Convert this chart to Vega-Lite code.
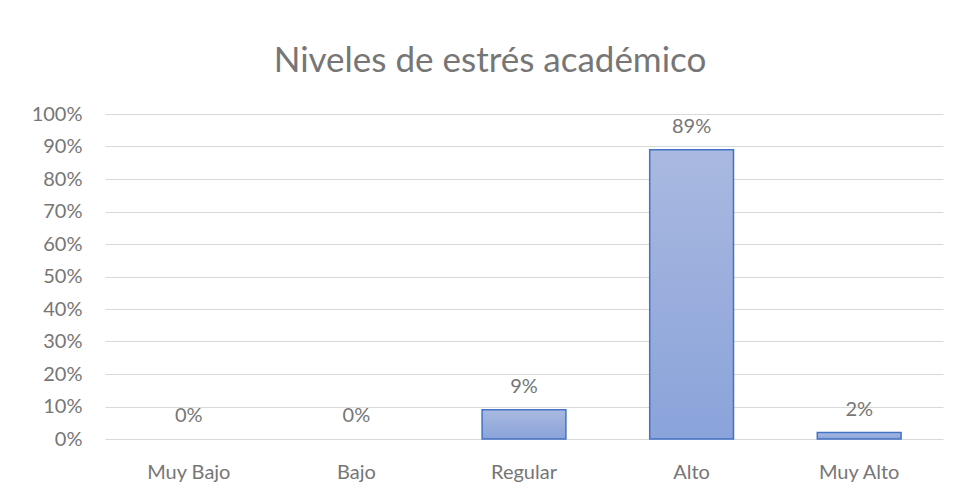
{
  "$schema": "https://vega.github.io/schema/vega-lite/v6.json",
  "width": 838,
  "height": 325,
  "autosize": {"type": "none"},
  "padding": {"left": 105, "top": 114, "right": 16, "bottom": 54},
  "background": "white",
  "title": {
    "text": "Niveles de estrés académico",
    "font": "Lato",
    "fontSize": 35,
    "fontWeight": "normal",
    "color": "#767676",
    "anchor": "middle",
    "frame": "group",
    "baseline": "alphabetic",
    "dx": -34,
    "offset": -3
  },
  "data": {
    "values": [
      {"nivel": "Muy Bajo", "pct": 0},
      {"nivel": "Bajo", "pct": 0},
      {"nivel": "Regular", "pct": 0.09},
      {"nivel": "Alto", "pct": 0.89},
      {"nivel": "Muy Alto", "pct": 0.02}
    ]
  },
  "encoding": {
    "x": {
      "field": "nivel",
      "type": "nominal",
      "sort": ["Muy Bajo", "Bajo", "Regular", "Alto", "Muy Alto"],
      "scale": {"paddingInner": 0.5, "paddingOuter": 0.25},
      "axis": {
        "title": null,
        "labelAngle": 0,
        "labelFont": "Lato",
        "labelFontSize": 20,
        "labelColor": "#767676",
        "labelBaseline": "alphabetic",
        "labelPadding": 39,
        "ticks": false,
        "domain": false,
        "grid": false
      }
    },
    "y": {
      "field": "pct",
      "type": "quantitative",
      "scale": {"domain": [0, 1], "nice": false},
      "axis": {
        "title": null,
        "format": ".0%",
        "values": [0, 0.1, 0.2, 0.3, 0.4, 0.5, 0.6, 0.7, 0.8, 0.9, 1],
        "labelFont": "Lato",
        "labelFontSize": 20,
        "labelColor": "#767676",
        "labelPadding": 23,
        "ticks": false,
        "domain": false,
        "grid": true,
        "gridColor": "#d9d9d9",
        "gridWidth": 1
      }
    }
  },
  "layer": [
    {
      "transform": [{"filter": "datum.pct > 0"}],
      "mark": {
        "type": "bar",
        "stroke": "#4472c4",
        "strokeWidth": 1.5,
        "color": {
          "gradient": "linear",
          "x1": 0, "y1": 0, "x2": 0, "y2": 1,
          "stops": [
            {"offset": 0, "color": "#a9b9e0"},
            {"offset": 1, "color": "#8aa3da"}
          ]
        }
      }
    },
    {
      "mark": {
        "type": "text",
        "baseline": "alphabetic",
        "dy": -17,
        "font": "Lato",
        "fontSize": 20,
        "color": "#767676"
      },
      "encoding": {
        "text": {"field": "pct", "type": "quantitative", "format": ".0%"}
      }
    }
  ],
  "config": {"view": {"stroke": null}}
}
